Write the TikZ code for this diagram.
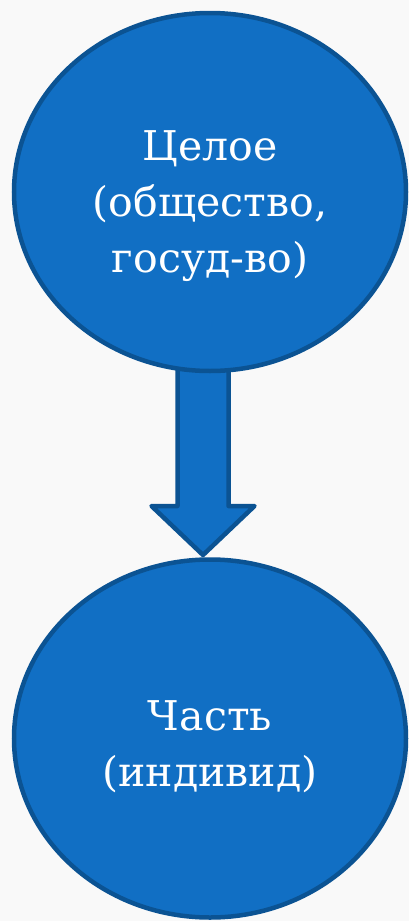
\documentclass[tikz,border=0pt]{standalone}
\usepackage{fontspec}
\setmainfont{DejaVu Serif}
\usetikzlibrary{shapes.geometric,calc}
\definecolor{fillblue}{RGB}{17,111,196}
\definecolor{edgeblue}{RGB}{11,83,147}
\definecolor{bggray}{RGB}{249,249,249}
\tikzset{
  bigoval/.style={ellipse, draw=edgeblue, fill=fillblue, line width=4.5pt, minimum width=392pt, minimum height=358pt, inner sep=0pt},
  ovaltext/.style={text=white, align=center, font=\fontsize{41}{56}\selectfont},
  blockarrow/.style={draw=edgeblue, fill=fillblue, line width=4.5pt, line join=round}
}
\begin{document}
\begin{tikzpicture}[x=1pt,y=-1pt]
\fill[bggray] (0,0) rectangle (409,921);
\useasboundingbox (0,0) rectangle (409,921);
% arrow (behind ovals)
\coordinate (arrtop) at (203,360);
\coordinate (arrtip) at (203,555);
\draw[blockarrow] ($(arrtop)+(-25.5,0)$) -- ($(arrtip)+(-25.5,-49)$) -- ($(arrtip)+(-51.5,-49)$) -- (arrtip) -- ($(arrtip)+(51.5,-49)$) -- ($(arrtip)+(25.5,-49)$) -- ($(arrtop)+(25.5,0)$);
\node[bigoval] (top) at (210,192) {};
\node[bigoval] (bot) at (210,738.5) {};
\node[ovaltext] (toptext) at ($(top.center)+(0,14)$) {Целое\\(общество,\\госуд-во)};
\node[ovaltext] (bottext) at ($(bot.center)+(0,8)$) {Часть\\(индивид)};
\end{tikzpicture}
\end{document}
